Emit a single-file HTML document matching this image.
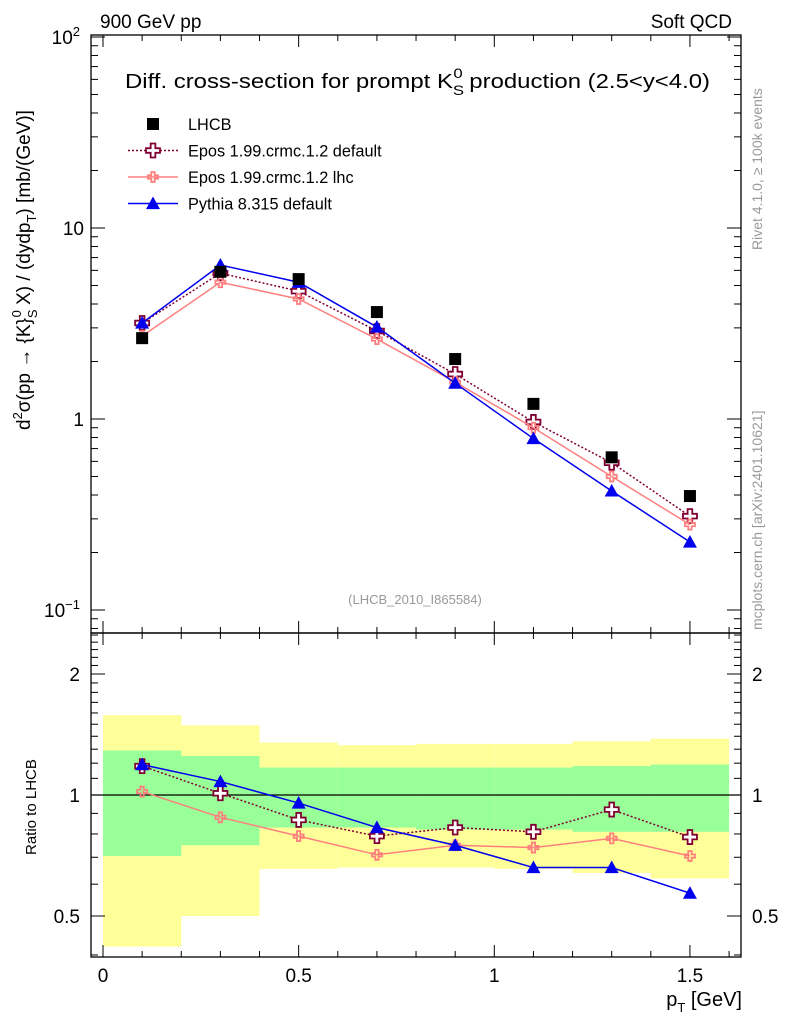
<!DOCTYPE html>
<html><head><meta charset="utf-8"><style>
body{margin:0;background:#fff}
svg text{font-family:"Liberation Sans","DejaVu Sans",sans-serif}
</style></head><body>
<svg id="c" width="786" height="1024" viewBox="0 0 786 1024" xmlns="http://www.w3.org/2000/svg">
<text x="100" y="28" font-size="19">900 GeV pp</text>
<text x="732" y="28" font-size="19" text-anchor="end">Soft QCD</text>
<text x="125" y="88" font-size="20" textLength="585" lengthAdjust="spacingAndGlyphs">Diff. cross-section for prompt K<tspan font-size="14" dy="7">S</tspan><tspan font-size="14" dx="-9" dy="-17">0</tspan><tspan dy="10"> production (2.5&lt;y&lt;4.0)</tspan></text>
<text x="415" y="604" font-size="13" fill="#999" text-anchor="middle">(LHCB_2010_I865584)</text>
<text transform="translate(762,250) rotate(-90)" font-size="14" fill="#999">Rivet 4.1.0, ≥ 100k events</text>
<text transform="translate(762,630) rotate(-90)" font-size="14" fill="#999">mcplots.cern.ch [arXiv:2401.10621]</text>
<text transform="translate(30,430) rotate(-90)" font-size="19">d<tspan font-size="13" dy="-8">2</tspan><tspan dy="8">σ(pp → {K}</tspan><tspan font-size="13" dy="7">S</tspan><tspan font-size="13" dx="-8" dy="-16">0</tspan><tspan dy="9"> X) / (dydp</tspan><tspan font-size="13" dy="6">T</tspan><tspan dy="-6">) [mb/(GeV)]</tspan></text>
<text transform="translate(36,855) rotate(-90)" font-size="15">Ratio to LHCB</text>
<text x="742" y="1006" font-size="20" text-anchor="end">p<tspan font-size="13" dy="6">T</tspan><tspan dy="-6"> [GeV]</tspan></text>
<g id="g"></g>
</svg>
<script>
const xCats=[0.1,0.3,0.5,0.7,0.9,1.1,1.3,1.5];
const lhcb=[2.65,5.9,5.4,3.63,2.06,1.2,0.63,0.395];
const eposDef=[3.18,5.8,4.67,2.89,1.72,0.965,0.59,0.31];
const eposLhc=[2.72,5.2,4.25,2.62,1.56,0.90,0.50,0.28];
const pythia=[3.18,6.4,5.2,3.03,1.54,0.79,0.42,0.227];
const rEposDef=[1.18,1.01,0.867,0.79,0.83,0.81,0.92,0.786];
const rEposLhc=[1.02,0.88,0.79,0.71,0.75,0.74,0.78,0.705];
const rPythia=[1.19,1.08,0.955,0.83,0.75,0.66,0.66,0.57];
const binEdges=[0,0.2,0.4,0.6,0.8,1.0,1.2,1.4,1.6];
const yelHi=[1.58,1.49,1.35,1.33,1.34,1.34,1.36,1.38];
const yelLo=[0.42,0.50,0.655,0.66,0.66,0.655,0.64,0.62];
const grnHi=[1.29,1.25,1.17,1.17,1.17,1.17,1.18,1.19];
const grnLo=[0.705,0.75,0.83,0.83,0.82,0.82,0.81,0.81];
const xTicks=[0,0.5,1,1.5];
const xTickLabels=["0","0.5","1","1.5"];

const NS="http://www.w3.org/2000/svg";
const g=document.getElementById('g');
const L=91,R=741,T1=35,B1=633,T2=633,B2=957;
const X=v=>103+v*391.3;
const Y1=v=>419-Math.log10(v)*191;
const Y2=v=>795-Math.log10(v)*402;
function mk(t,a,p){const e=document.createElementNS(NS,t);for(const k in a)e.setAttribute(k,a[k]);(p||g).appendChild(e);return e;}

binEdges.slice(0,-1).forEach((b,i)=>{
 const r=mk('rect',{x:X(b),y:Y2(yelHi[i]),width:X(binEdges[i+1])-X(b),height:Y2(yelLo[i])-Y2(yelHi[i]),fill:'#ffff99'});
 
 
});
binEdges.slice(0,-1).forEach((b,i)=>{
 const r=mk('rect',{x:X(b),y:Y2(grnHi[i]),width:X(binEdges[i+1])-X(b),height:Y2(grnLo[i])-Y2(grnHi[i]),fill:'#99ff99'});
 
 
});
const one=mk('line',{x1:L,x2:R,y1:Y2(1),y2:Y2(1),stroke:'#000','stroke-width':1.3});



[[T1,B1],[T2,B2]].forEach(([t,b],k)=>{
 const f=mk('rect',{x:L,y:t,width:R-L,height:b-t,fill:'none',stroke:'#000','stroke-width':1.3});
 
 
 for(let v=0;v<=1.6001;v+=0.1){
  const maj=Math.abs(v*2-Math.round(v*2))<1e-6;const len=maj?12:6;
  mk('line',{x1:X(v),x2:X(v),y1:b,y2:b-len,stroke:'#000'});
  mk('line',{x1:X(v),x2:X(v),y1:t,y2:t+len,stroke:'#000'});
 }
});
for(let d=-2;d<=2;d++)for(let m=1;m<10;m++){
 const v=m*Math.pow(10,d);const y=Y1(v);if(y<T1||y>B1)continue;
 const len=m==1?14:7;
 mk('line',{x1:L,x2:L+len,y1:y,y2:y,stroke:'#000'});
 mk('line',{x1:R,x2:R-len,y1:y,y2:y,stroke:'#000'});
}
[[100,'10','2'],[10,'10',''],[1,'1',''],[0.1,'10','−1']].forEach(([v,s,e])=>{
 const t=mk('text',{x:e?80:84,y:Y1(v)+7,'font-size':19,'text-anchor':'end'});
 t.textContent=s;
 
 
 if(e){const sp=mk('tspan',{'font-size':13,dy:-8},t);sp.textContent=e;}
});
[0.4,0.5,0.6,0.7,0.8,0.9,1,2].forEach(v=>{
 const y=Y2(v);const maj=(v==0.5||v==1||v==2);const len=maj?14:7;
 mk('line',{x1:L,x2:L+len,y1:y,y2:y,stroke:'#000'});
 mk('line',{x1:R,x2:R-len,y1:y,y2:y,stroke:'#000'});
});
for(let v=1.1;v<2.55;v+=0.1){const y=Y2(v);if(y<T2)continue;mk('line',{x1:L,x2:L+7,y1:y,y2:y,stroke:'#000'});mk('line',{x1:R,x2:R-7,y1:y,y2:y,stroke:'#000'});}
[[2,'2'],[1,'1'],[0.5,'0.5']].forEach(([v,s])=>{
 [[80,'end'],[752,'start']].forEach(([x,a])=>{
  const t=mk('text',{x:x,y:Y2(v)+7,'font-size':19,'text-anchor':a});t.textContent=s;
  
  
 });
});
xTicks.forEach((v,i)=>{
 const t=mk('text',{x:X(v),y:982,'font-size':19,'text-anchor':'middle'});t.textContent=xTickLabels[i];
 
 
});

function cross(x,y,s,col,fill){
 const a=s/3;
 const p=`M${x-a},${y-s}h${2*a}v${s-a}h${s-a}v${2*a}h${-(s-a)}v${s-a}h${-2*a}v${-(s-a)}h${-(s-a)}v${-2*a}h${s-a}z`;
 return mk('path',{d:p,fill:fill,stroke:col,'stroke-width':1.8});
}
function tri(x,y,s,col){return mk('path',{d:`M${x},${y-s}L${x+s},${y+s*0.8}L${x-s},${y+s*0.8}z`,fill:col});}
function series(vals,Y,col,dash,marker,name){
 const pts=xCats.map((x,i)=>X(x)+','+Y(vals[i])).join(' ');
 const l=mk('polyline',{points:pts,fill:'none',stroke:col,'stroke-width':1.5});
 if(dash)l.setAttribute('stroke-dasharray',dash);
 
 
 xCats.forEach((x,i)=>{
  let m;
  if(marker=='bigcross')m=cross(X(x),Y(vals[i]),7,col,'#fff');
  else if(marker=='smallcross')m=cross(X(x),Y(vals[i]),5,col,'none');
  else m=tri(X(x),Y(vals[i]),7,col);
  
  
 });
}
series(eposDef,Y1,'#800033','2,2','bigcross','epos-default');
series(eposLhc,Y1,'#ff7f7f',null,'smallcross','epos-lhc');
series(pythia,Y1,'#0000ee',null,'tri','pythia');
xCats.forEach((x,i)=>{
 const r=mk('rect',{x:X(x)-6,y:Y1(lhcb[i])-6,width:12,height:12,fill:'#000'});
 
 
});
series(rEposDef,Y2,'#800033','2,2','bigcross','ratio-epos-default');
series(rEposLhc,Y2,'#ff7f7f',null,'smallcross','ratio-epos-lhc');
series(rPythia,Y2,'#0000ee',null,'tri','ratio-pythia');

const lg=[['LHCB','sq'],['Epos 1.99.crmc.1.2 default','ed'],['Epos 1.99.crmc.1.2 lhc','el'],['Pythia 8.315 default','py']];
lg.forEach(([s,k],i)=>{
 const y=124+i*26.5;
 const grp=mk('g',{});
 
 
 if(k=='sq')mk('rect',{x:147,y:y-6,width:12,height:12,fill:'#000'},grp);
 if(k=='ed'){mk('line',{x1:128,x2:178,y1:y,y2:y,stroke:'#800033','stroke-width':1.5,'stroke-dasharray':'2,2'},grp);grp.appendChild(cross(153,y,7,'#800033','#fff'));}
 if(k=='el'){mk('line',{x1:128,x2:178,y1:y,y2:y,stroke:'#ff7f7f','stroke-width':1.5},grp);grp.appendChild(cross(153,y,5,'#ff7f7f','none'));}
 if(k=='py'){mk('line',{x1:128,x2:178,y1:y,y2:y,stroke:'#0000ee','stroke-width':1.5},grp);grp.appendChild(tri(153,y,7,'#0000ee'));}
 const t=mk('text',{x:188,y:y+6,'font-size':16.3},grp);t.textContent=s;
});
</script>
</body></html>
